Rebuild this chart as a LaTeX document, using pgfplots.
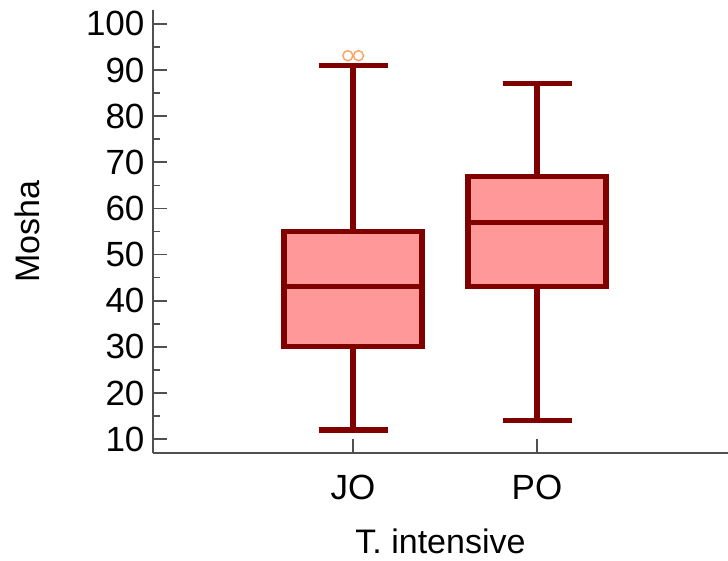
\documentclass[border=0pt]{standalone}
\usepackage{pgfplots}
\pgfplotsset{compat=1.18}
\usetikzlibrary{calc}
\usepackage{fontspec}
\setmainfont{Liberation Sans}
\definecolor{boxfill}{HTML}{FF9999}
\definecolor{boxedge}{HTML}{800000}
\definecolor{outl}{HTML}{FFA060}
\definecolor{axgray}{HTML}{505050}
\tikzset{bx/.style={draw=boxedge, line width=2.6pt, mark=none, solid}}

\begin{document}
\begin{tikzpicture}
\begin{axis}[
    scale only axis,
    width=287.5pt, height=221.5pt,
    xmin=-0.087, xmax=3.038,
    ymin=7, ymax=103,
    axis x line*=bottom, axis y line*=left,
    axis line style={axgray, line width=1pt},
    every tick/.style={axgray, line width=0.8pt},
    tick align=inside,
    major tick length=7pt, minor tick length=3.5pt,
    xtick={1,2}, xticklabels={JO,PO},
    ytick={10,20,...,100}, minor y tick num=1,
    /pgf/number format/assume math mode=true,
    ticklabel style={font=\fontsize{17.5}{20}\selectfont},
    xticklabel style={yshift=-7.5pt},
    yticklabel style={xshift=-0.75pt},
    xlabel={T. intensive}, ylabel={Mosha},
    label style={font=\fontsize{17}{20}\selectfont},
    xlabel style={at={(axis description cs:0.5,-0.2)}, anchor=center},
    ylabel style={at={(axis description cs:-0.219,0.5)}, anchor=center},
    clip=false,
]
% JO: whiskers 12 / 91, quartiles 30 / 55, median 43
\addplot[bx] coordinates {(1,12) (1,30)};
\addplot[bx] coordinates {(1,55) (1,91)};
\addplot[bx] coordinates {(0.8125,12) (1.1875,12)};
\addplot[bx] coordinates {(0.8125,91) (1.1875,91)};
\addplot[bx, fill=boxfill] coordinates {(0.625,30) (1.375,30) (1.375,55) (0.625,55)} -- cycle;
\addplot[bx] coordinates {(0.625,43) (1.375,43)};
% PO: whiskers 14 / 87, quartiles 43 / 67, median 57
\addplot[bx] coordinates {(2,14) (2,43)};
\addplot[bx] coordinates {(2,67) (2,87)};
\addplot[bx] coordinates {(1.8125,14) (2.1875,14)};
\addplot[bx] coordinates {(1.8125,87) (2.1875,87)};
\addplot[bx, fill=boxfill] coordinates {(1.625,43) (2.375,43) (2.375,67) (1.625,67)} -- cycle;
\addplot[bx] coordinates {(1.625,57) (2.375,57)};
% JO outliers (two points at 93)
\addplot[only marks, mark=o, mark size=2.5pt, outl, line width=0.7pt]
    coordinates {(0.972,93.1) (1.030,93.1)};
\end{axis}
\pgfresetboundingbox
\path ($(current axis.south west)+(-76.5pt,-54pt)$) rectangle ($(current axis.north east)+(0,5pt)$);
\end{tikzpicture}
\end{document}
